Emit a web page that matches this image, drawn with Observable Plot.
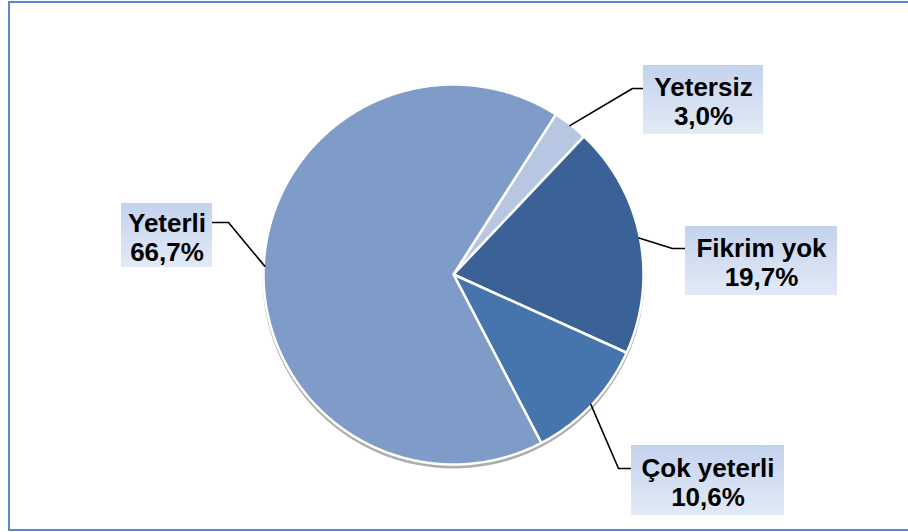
<!DOCTYPE html>
<html><head><meta charset="utf-8">
<script src="https://cdn.jsdelivr.net/npm/d3@7"></script>
<script src="https://cdn.jsdelivr.net/npm/@observablehq/plot@0.6"></script>
<style>
html,body{margin:0;padding:0;background:#fff;}
#wrap{position:relative;width:908px;height:532px;overflow:hidden;}
#border{position:absolute;left:8px;top:1px;width:930px;height:530px;border:2px solid #5B88C6;box-sizing:border-box;pointer-events:none;}
svg{display:block;}
</style></head><body><div id="wrap"><div id="border"></div></div>
<script>
// ---- data ----
const categories = ["Yetersiz", "Fikrim yok", "Çok yeterli", "Yeterli"];
const values = [3.0, 19.7, 10.6, 66.7];
const valueLabels = ["3,0%", "19,7%", "10,6%", "66,7%"];
const colors = ["#B7C6E1", "#3B6296", "#4675AE", "#7F9BC8"];

// ---- layout (pixels) ----
const CX = 453, CY = 274, R = 190, START_DEG = 32.6;
const boxLayout = [
  {x1: 643, x2: 763, y1: 65, y2: 134, ex: 632, ey: 88, side: "left"},
  {x1: 685, x2: 837, y1: 226, y2: 295, ex: 672, ey: 248, side: "left"},
  {x1: 631, x2: 784, y1: 445, y2: 515, ex: 618, ey: 468, side: "left"},
  {x1: 121, x2: 212, y1: 203, y2: 267, ex: 228, ey: 222, side: "right"}
];

const a0 = START_DEG * Math.PI / 180;
const arcs = d3.pie().sort(null).startAngle(a0).endAngle(a0 + 2 * Math.PI)(values);
const px = (a, r) => CX + r * Math.sin(a);
const py = (a, r) => CY - r * Math.cos(a);

// slice polygons
const slicePts = [];
arcs.forEach((d, i) => {
  const name = categories[i];
  slicePts.push({name, x: CX, y: CY});
  const n = Math.max(2, Math.ceil((d.endAngle - d.startAngle) / (Math.PI / 360)));
  for (let k = 0; k <= n; k++) {
    const a = d.startAngle + (d.endAngle - d.startAngle) * k / n;
    slicePts.push({name, x: px(a, R), y: py(a, R)});
  }
});

// leader lines
const leaderPts = [];
arcs.forEach((d, i) => {
  const b = boxLayout[i];
  const m = (d.startAngle + d.endAngle) / 2;
  leaderPts.push({name: categories[i], x: px(m, R - 1), y: py(m, R - 1)});
  leaderPts.push({name: categories[i], x: b.ex, y: b.ey});
  leaderPts.push({name: categories[i], x: b.side === "left" ? b.x1 : b.x2, y: b.ey});
});

const labels = categories.map((c, i) => ({
  ...boxLayout[i],
  text: c + "\n" + valueLabels[i]
}));

const chart = Plot.plot({
  width: 908, height: 532,
  margin: 0,
  x: {type: "linear", domain: [0, 908], range: [0, 908], axis: null},
  y: {type: "linear", domain: [0, 532], range: [0, 532], axis: null},
  color: {domain: categories, range: colors},
  style: {background: "transparent"},
  marks: [
    Plot.dot([{x: CX, y: CY}], {x: "x", y: "y", r: R + 1, dy: 3, fill: "#000", fillOpacity: 0.32, stroke: "none", ariaLabel: "pie-shadow"}),
    Plot.line(slicePts, {x: "x", y: "y", z: "name", fill: "name", stroke: "white", strokeWidth: 2.5, curve: "linear-closed", strokeLinejoin: "round"}),
    Plot.line(leaderPts, {x: "x", y: "y", z: "name", stroke: "black", strokeWidth: 1.6}),
    Plot.rect(labels, {x1: "x1", x2: "x2", y1: "y1", y2: "y2", fill: "url(#lblgrad)"}),
    Plot.text(labels, {
      x: d => (d.x1 + d.x2) / 2, y: d => (d.y1 + d.y2) / 2, text: "text",
      fontSize: 26, fontWeight: "bold", fontFamily: "'Liberation Sans', Arial, sans-serif",
      lineHeight: 1.12, lineAnchor: "middle", dy: 1.5, fill: "black"
    })
  ]
});

const defs = d3.select(chart).insert("defs", ":first-child");
const g = defs.append("linearGradient").attr("id", "lblgrad")
  .attr("x1", 0).attr("y1", 0).attr("x2", 0).attr("y2", 1);
g.append("stop").attr("offset", "0%").attr("stop-color", "#C3D2ED");
g.append("stop").attr("offset", "100%").attr("stop-color", "#E3EAF6");
const f = defs.append("filter").attr("id", "blur").attr("x", "-20%").attr("y", "-20%").attr("width", "140%").attr("height", "140%");
f.append("feGaussianBlur").attr("stdDeviation", 3);
d3.select(chart).selectAll("g[aria-label='pie-shadow']").attr("filter", "url(#blur)");

document.getElementById("wrap").appendChild(chart);
</script>
</body></html>
